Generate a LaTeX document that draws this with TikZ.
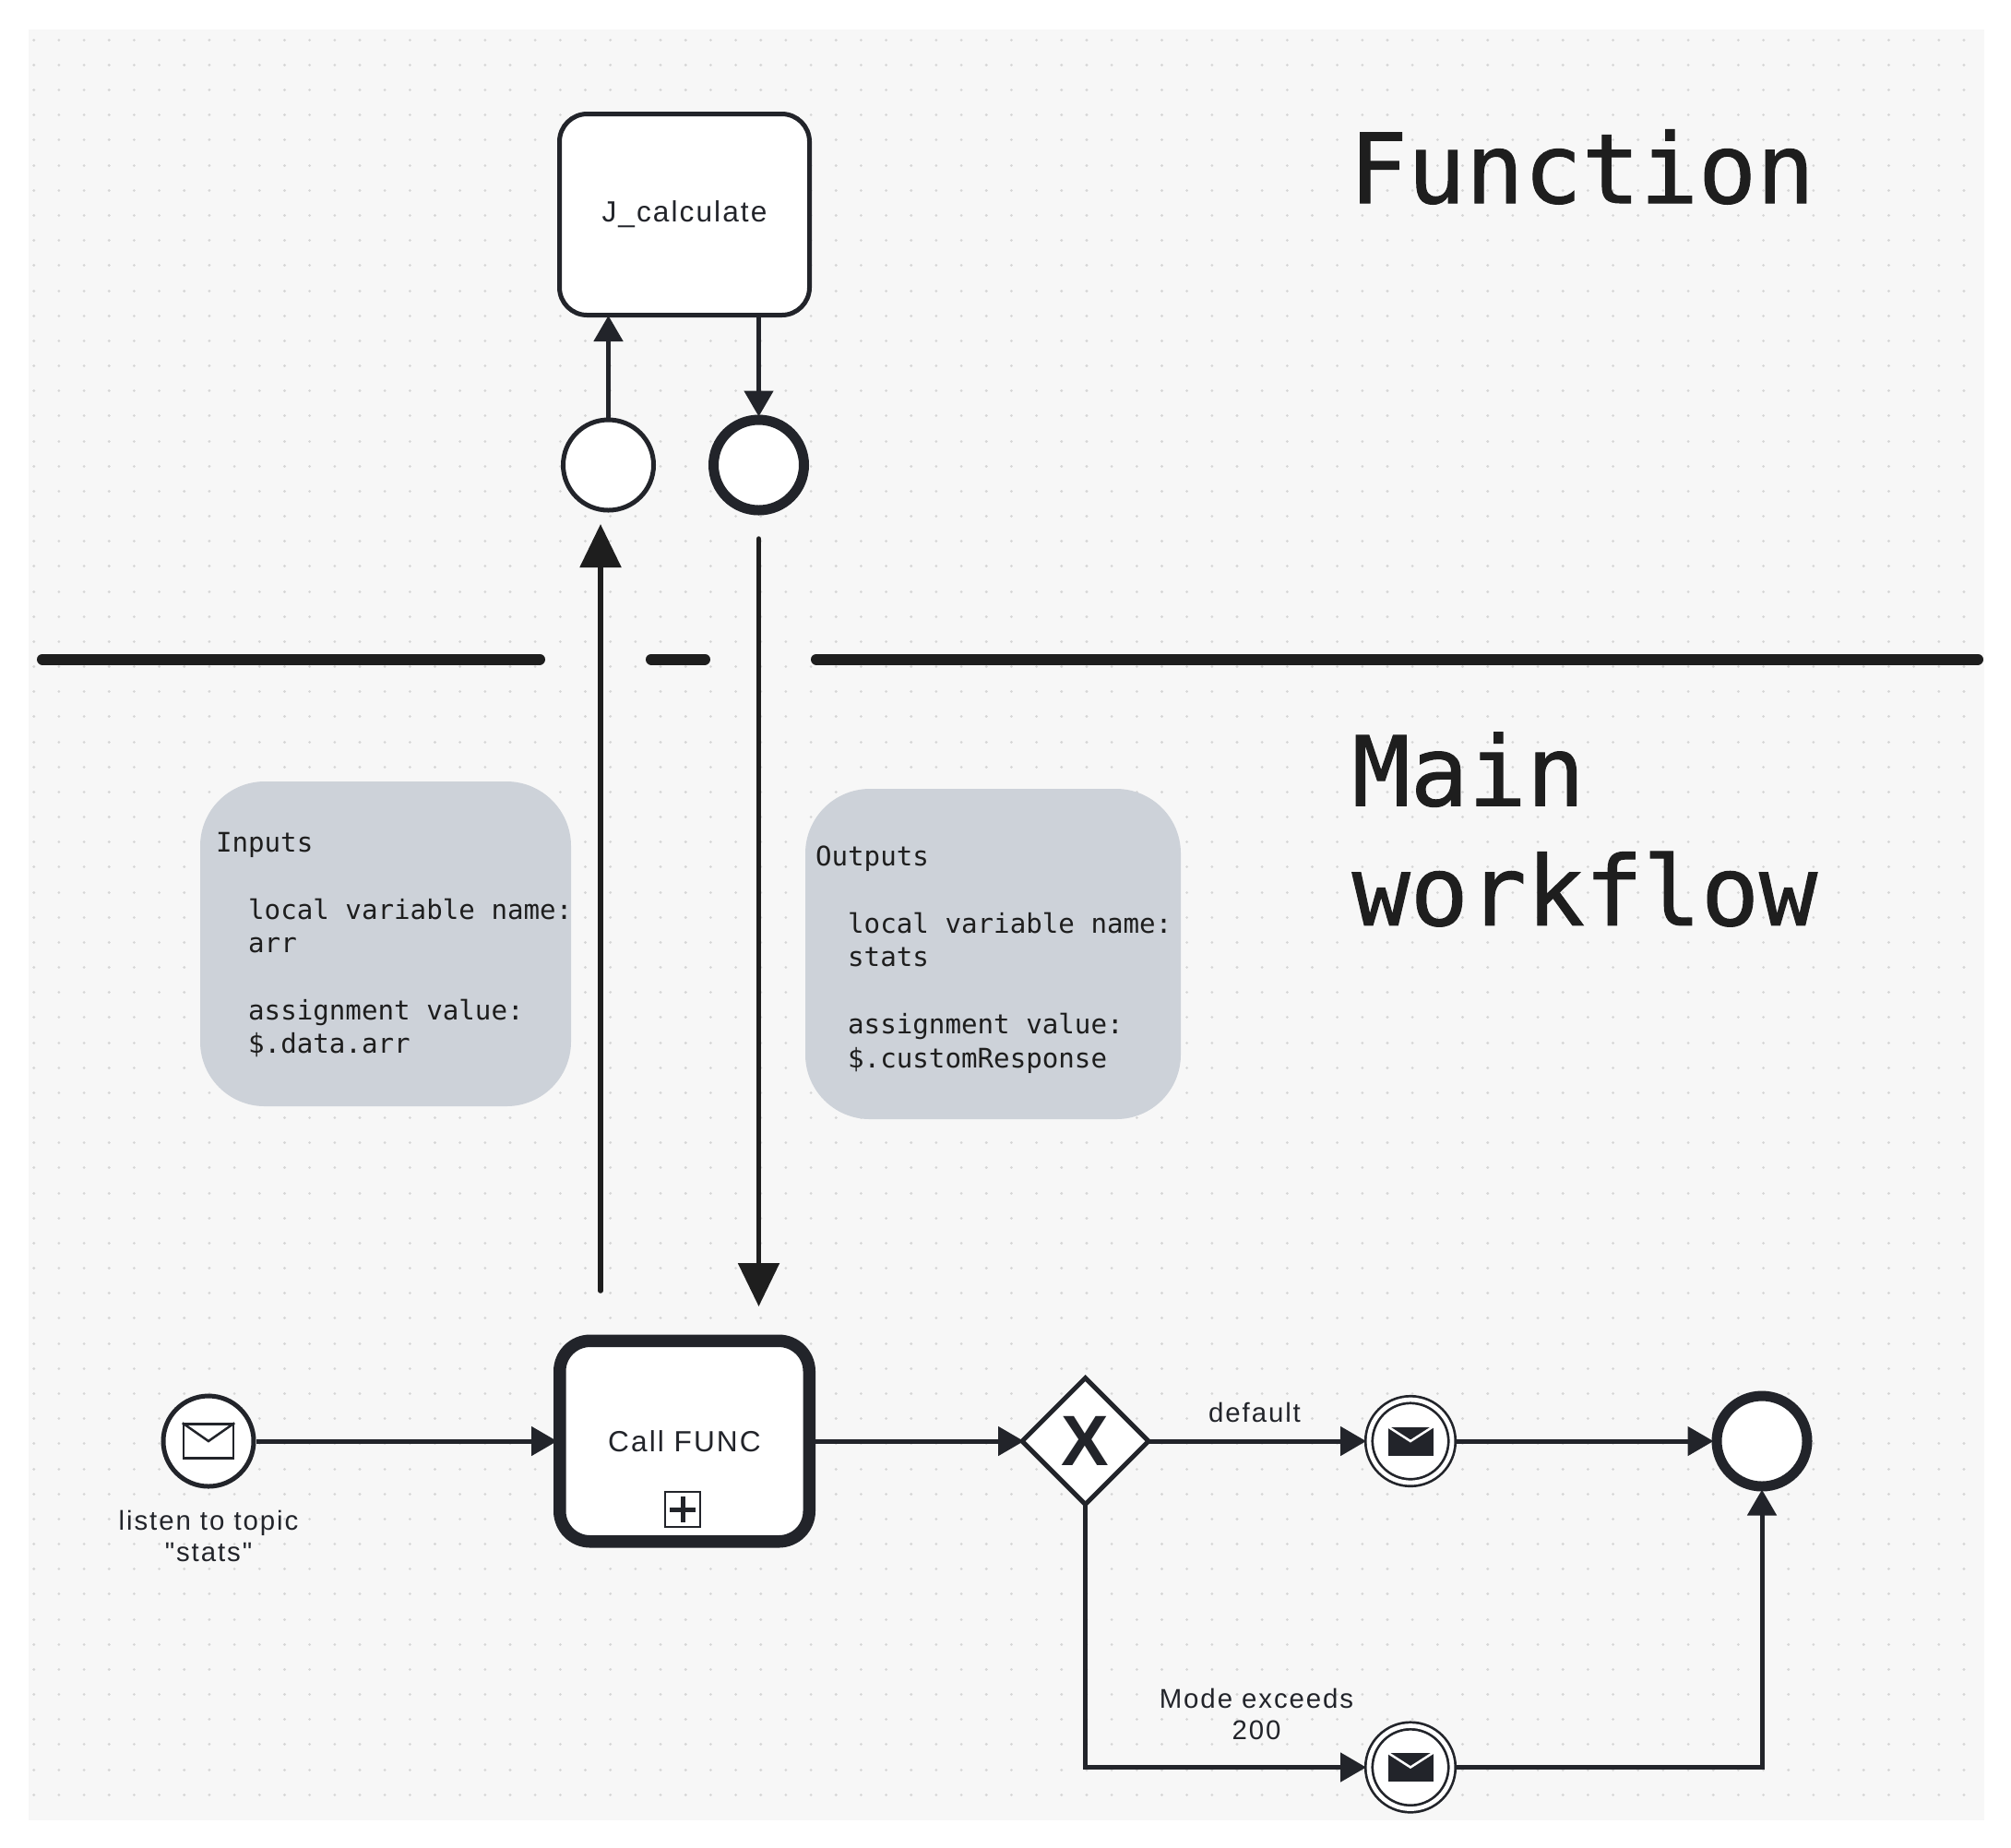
\documentclass[tikz,border=0pt]{standalone}
\usepackage{fontspec}
\usepackage{xcolor}
\usetikzlibrary{
    arrows.meta,
    shapes.geometric,
    calc,
    positioning
}
\newfontfamily\bpmnfont[LetterSpace=6.5]{Liberation Sans}
\newfontfamily\boldfont{Liberation Sans}
\newfontfamily\codefont[WordSpace={1,0,0}]{DejaVu Sans Mono}
\newfontfamily\titlefont[FakeBold=1]{DejaVu Sans Mono}
\definecolor{ink}{HTML}{22242A}
\definecolor{pen}{HTML}{1E1E1E}
\definecolor{canvas}{HTML}{F7F7F7}
\definecolor{griddot}{HTML}{D6D6D6}
\definecolor{notefill}{HTML}{CDD2D9}
\tikzset{
    task/.style={draw=ink, fill=white, rounded corners=.3cm, line width=.05cm, minimum width=2.71cm, minimum height=2.18cm, inner sep=0, text=ink, font=\bpmnfont\fontsize{9}{10.5}\selectfont},
    event/.style={draw=ink, fill=white, circle, inner sep=0, minimum size=.98cm, line width=.05cm},
    endevent/.style={event, line width=.11cm},
    msgevent/.style={event, minimum size=.9cm, line width=.027cm, double=white, double distance=.048cm, outer sep=.05cm},
    envopen/.style={draw=ink, fill=white, line width=.025cm, inner sep=0, minimum width=.54cm, minimum height=.37cm},
    envfull/.style={fill=ink, inner sep=0, minimum width=.49cm, minimum height=.31cm},
    flow/.style={draw=ink, line width=.05cm, shorten >=-.02cm, -{Triangle[length=.28cm,width=.31cm]}},
    bigflow/.style={draw=pen, line width=.055cm, line cap=round, -{Triangle[length=.47cm,width=.44cm]}},
    divider/.style={draw=pen, line width=.12cm, line cap=round},
    lbl/.style={inner sep=0, align=center, text=ink, font=\bpmnfont\fontsize{8.37}{9.85}\selectfont},
    notebox/.style={fill=notefill, rounded corners=.7cm},
    notetext/.style={inner sep=0, align=left, anchor=west, text=pen, font=\codefont\fontsize{8.3}{10.36}\selectfont},
    heading/.style={inner sep=0, align=left, text=pen, font=\titlefont\fontsize{29.8}{36.9}\selectfont}
}
\newcommand{\ind}{\phantom{xx}}
\begin{document}
\begin{tikzpicture}
    \useasboundingbox (0, 0) rectangle (21.8, -20.02);
    \fill[canvas] (.31, -.32) rectangle (21.51, -19.73);
    \foreach \j in {0,...,70} {
        \draw[griddot, line width=.03cm, line cap=round, dash pattern=on .001cm off .2707cm] (.367, -.433 - \j * .2717) -- (21.5, -.433 - \j * .2717);
    }

    % function part
    \node[heading, anchor=base west] (hfn) at (14.62, -2.2) {Function};
    \node[task] (nfn) at (7.42, -2.325) {J\_calculate};
    \node[event] (nfs) at (6.595, -5.04) {};
    \node[endevent] (nfe) at (8.225, -5.04) {};

    % divider
    \coordinate (d1) at (.46, -7.145);
    \coordinate (d2) at (5.85, -7.145);
    \coordinate (d3) at (7.06, -7.145);
    \coordinate (d4) at (7.64, -7.145);
    \coordinate (d5) at (8.85, -7.145);
    \coordinate (d6) at (21.44, -7.145);

    \node[heading, anchor=west] (hmain) at (14.65, -8.99) {Main\\workflow};
    \node[notebox, minimum width=4.02cm, minimum height=3.52cm] (nin) at (4.18, -10.23) {};
    \node[notetext] (tin) at ($(nin.west) + (.17, -.01)$) {Inputs\\\mbox{}\\\ind local variable name:\\\ind arr\\\mbox{}\\\ind assignment value:\\\ind \$.data.arr};
    \node[notebox, minimum width=4.07cm, minimum height=3.58cm] (nout) at (10.765, -10.34) {};
    \node[notetext] (tout) at ($(nout.west) + (.11, -.06)$) {Outputs\\\mbox{}\\\ind local variable name:\\\ind stats\\\mbox{}\\\ind assignment value:\\\ind \$.customResponse};

    % main workflow
    \node[event] (nstart) at (2.26, -15.62) {};
    \node[envopen] (envs) at (nstart) {};
    \node[lbl] (lstart) at (2.26, -16.65) {listen to topic\\"stats"};
    \node[task, line width=.135cm, minimum width=2.705cm, minimum height=2.175cm, rounded corners=.33cm] (ncall) at (7.42, -15.62) {Call FUNC};
    \node[draw=ink, fill=white, line width=.02cm, inner sep=0, minimum size=.38cm] (nplus) at (7.4, -16.36) {};
    \node[draw=ink, fill=white, diamond, aspect=1, inner sep=0, outer sep=0, minimum size=1.37cm, line width=.05cm, text=ink, font=\boldfont\bfseries\fontsize{22}{22}\selectfont] (ngw) at (11.765, -15.62) {X};
    \node[lbl] (lgw1) at (13.6, -15.31) {default};
    \node[msgevent] (nm1) at (15.29, -15.62) {};
    \node[envfull] (env1) at (nm1) {};
    \node[lbl] (lgw2) at (13.62, -18.58) {Mode exceeds\\200};
    \node[msgevent] (nm2) at (15.29, -19.155) {};
    \node[envfull] (env2) at (nm2) {};
    \node[endevent] (nend) at (19.1, -15.62) {};

    % envelopes and marker
    \draw[ink, line width=.025cm] (envs.north west) -- (envs.center) -- (envs.north east);
    \draw[white, line width=.025cm] (env1.north west) -- (env1.center) -- (env1.north east);
    \draw[white, line width=.025cm] (env2.north west) -- (env2.center) -- (env2.north east);
    \draw[ink, line width=.05cm] ($(nplus.center) + (-.14, 0)$) -- ($(nplus.center) + (.14, 0)$);
    \draw[ink, line width=.05cm] ($(nplus.center) + (0, -.14)$) -- ($(nplus.center) + (0, .14)$);

    % connectors
    \coordinate (cin1) at (6.51, -13.99);
    \coordinate (cin2) at (6.51, -5.68);
    \coordinate (cout1) at (8.225, -5.84);
    \coordinate (cout2) at (8.225, -14.16);

    \draw[divider] (d1) -- (d2);
    \draw[divider] (d3) -- (d4);
    \draw[divider] (d5) -- (d6);
    \draw[flow] (nfs.north) -- (nfs.north |- nfn.south);
    \draw[flow] (nfe.north |- nfn.south) -- (nfe.north);
    \draw[bigflow] (cin1) -- (cin2);
    \draw[bigflow] (cout1) -- (cout2);
    \draw
    (nstart) edge[flow, shorten >=-.04cm] (ncall)
    (ncall) edge[flow] (ngw)
    (ngw) edge[flow] (nm1)
    (nm1) edge[flow] (nend);
    \draw[flow] (ngw.south) |- (nm2.west);
    \draw[flow] (nm2.east) -| (nend.south);
\end{tikzpicture}
\end{document}
